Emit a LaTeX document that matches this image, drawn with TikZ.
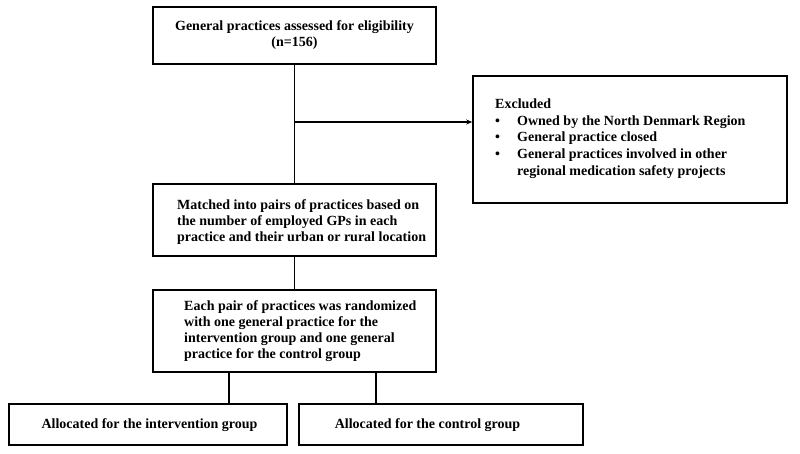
\documentclass[tikz,border=0pt]{standalone}
\usepackage{fontspec}
\setmainfont{Liberation Serif}
\usetikzlibrary{arrows.meta}
\tikzset{
  box/.style={draw=black, line width=1.6pt, fill=white, rectangle, inner sep=0pt},
  txt/.style={inner sep=0pt, font=\bfseries\fontsize{14}{16}\selectfont},
  conn/.style={line width=1.5pt, draw=black},
}
\newcommand{\bul}{\makebox[22pt][l]{\textbullet}}
\begin{document}
\begin{tikzpicture}[x=1pt,y=-1pt]
\useasboundingbox[fill=white] (0,0) rectangle (800,453);
% boxes
\node[box, minimum width=283pt, minimum height=57pt] (b1) at (294.5,35.5) {};
\node[box, minimum width=283pt, minimum height=72pt] (b2) at (294.5,220) {};
\node[box, minimum width=283pt, minimum height=82pt] (b3) at (294.5,331) {};
\node[box, minimum width=314pt, minimum height=127pt] (ex) at (630,139.5) {};
\node[box, minimum width=278pt, minimum height=41pt] (b4) at (148,424.5) {};
\node[box, minimum width=284pt, minimum height=41pt] (b5) at (441,424.5) {};
% texts
\node[txt, align=center] (t1) at (294.5,35.5) {General practices assessed for eligibility\\(n=156)};
\node[txt, align=left, anchor=west] (t2) at (177,222.5) {Matched into pairs of practices based on\\the number of employed GPs in each\\practice and their urban or rural location};
\node[txt, align=left, anchor=west] (t3) at (184,331) {Each pair of practices was randomized\\with one general practice for the\\intervention group and one general\\practice for the control group};
\node[txt, align=left, anchor=west, font=\bfseries\fontsize{14}{16.7}\selectfont] (tx) at (495,138.5) {Excluded\\\bul Owned by the North Denmark Region\\\bul General practice closed\\\bul General practices involved in other\\\hspace*{22pt}regional medication safety projects};
\node[txt] (t4) at (149.5,425) {Allocated for the intervention group};
\node[txt] (t5) at (427.5,425) {Allocated for the control group};
% connectors
\coordinate (j) at (294.5,122);
\coordinate (xl) at (229,0);
\coordinate (xr) at (376,0);
\draw[conn] (b1.south) -- (b2.north);
\draw[conn, -{Stealth[length=6pt,width=5pt]}] (j) -- (j -| ex.west);
\draw[conn] (b2.south) -- (b3.north);
\draw[conn] (b3.south -| xl) -- (b4.north -| xl);
\draw[conn] (b3.south -| xr) -- (b5.north -| xr);
\end{tikzpicture}
\end{document}
